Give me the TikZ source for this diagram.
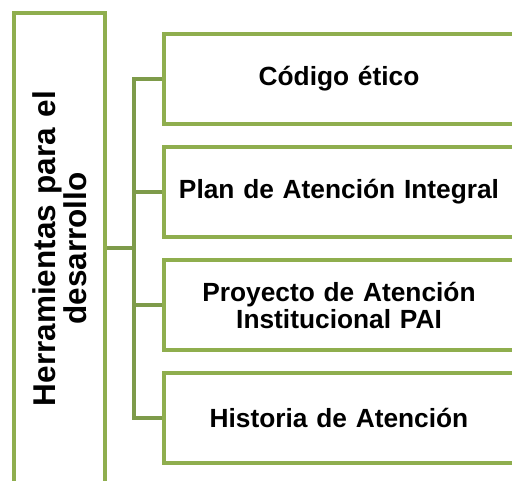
\documentclass[tikz,border=0pt]{standalone}
\usepackage{fontspec}
\setmainfont{Liberation Sans}
\definecolor{boxgreen}{HTML}{8FAE4E}
\definecolor{linkgreen}{HTML}{7E9B4A}
\tikzset{
  tool/.style={draw=boxgreen, line width=4pt, minimum width=350pt, minimum height=90pt,
    text width=330pt, align=center, font=\bfseries\fontsize{26.3}{27}\selectfont},
  link/.style={draw=linkgreen, line width=4pt}
}
\begin{document}
\begin{tikzpicture}[x=1pt,y=1pt]
\useasboundingbox (0,0) rectangle (512,481);
% Main box
\node[draw=boxgreen, line width=4pt, rotate=90, minimum width=470pt, minimum height=91pt,
  text width=450pt, align=center, font=\bfseries\fontsize{31.5}{31}\selectfont]
  (herramientas) at (59.5,232.5) {Herramientas para el\\desarrollo};

% Tools
\node[tool] (codigo) at (339,402) {Código ético};
\node[tool] (plan) at (339,289) {Plan de Atención Integral};
\node[tool] (proyecto) at (339,176) {Proyecto de Atención\\Institucional PAI};
\node[tool] (historia) at (339,63) {Historia de Atención};

% Connectors
\coordinate (trunk) at (134,232.5);
\draw[link] (herramientas.south) -- (trunk);
\draw[link] (trunk) |- (codigo.west);
\draw[link] (trunk) |- (plan.west);
\draw[link] (trunk) |- (proyecto.west);
\draw[link] (trunk) |- (historia.west);

\end{tikzpicture}
\end{document}
